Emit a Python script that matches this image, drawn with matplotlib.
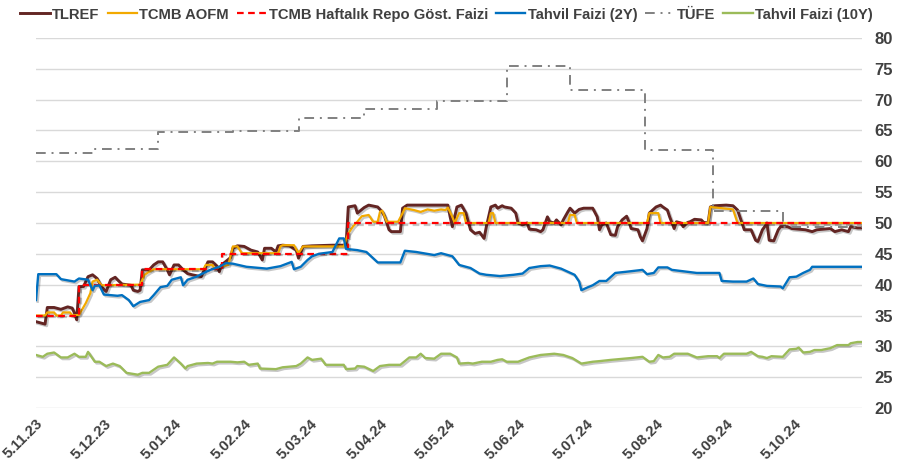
import numpy as np
import matplotlib
matplotlib.use("Agg")
import matplotlib.pyplot as plt
import matplotlib.patheffects as pe
from matplotlib.lines import Line2D

# ---------------- data (x = days since 5 Nov 2023) ----------------
base_date = np.datetime64('2023-11-05')

tlref_days = [0, 4, 5, 8, 11, 14, 16, 17, 18, 19, 21, 23, 25, 27, 29, 31, 33, 35, 36, 38, 42, 43, 45, 46,
              47, 50, 52, 54, 56, 58, 59, 61, 63, 65, 67, 69, 73, 76, 78, 80, 81, 82, 83, 86, 87, 89, 92,
              95, 98, 100, 101, 104, 106, 107, 109, 112, 115, 116, 118, 122, 131, 137, 138, 141, 142, 145,
              147, 151, 153, 154, 156, 157, 161, 162, 164, 182, 183, 184, 186, 188, 190, 192, 194, 196,
              198, 199, 201, 203, 204, 206, 207, 210, 212, 213, 215, 217, 218, 221, 223, 224, 226, 227,
              229, 230, 232, 233, 235, 236, 238, 240, 242, 246, 248, 249, 250, 252, 254, 256, 257, 259,
              261, 262, 263, 266, 267, 268, 270, 271, 274, 276, 277, 279, 280, 282, 283, 285, 286, 288,
              289, 291, 294, 295, 297, 298, 300, 305, 308, 310, 312, 313, 316, 318, 319, 321, 322, 323,
              324, 326, 328, 329, 332, 334, 337, 340, 343, 345, 348, 351, 353, 356, 359, 360, 363, 365]
tlref_vals = [34.0, 33.6, 36.3, 36.3, 36.0, 36.4, 36.2, 35.4, 34.3, 39.7, 39.7, 41.3, 41.6, 41.0, 39.6,
              38.9, 40.8, 41.2, 40.8, 40.1, 39.9, 39.1, 38.9, 39.1, 42.4, 42.4, 43.2, 43.7, 43.7, 42.4,
              41.6, 43.2, 43.2, 42.4, 41.8, 41.6, 41.3, 43.7, 43.7, 43.0, 42.1, 43.2, 43.5, 44.4, 45.9,
              46.3, 46.2, 45.6, 45.3, 44.0, 45.9, 45.9, 45.3, 46.3, 46.4, 46.3, 45.6, 44.3, 46.2, 46.3,
              46.4, 46.4, 52.6, 52.8, 51.6, 52.5, 52.9, 52.6, 51.8, 51.1, 48.9, 48.6, 48.6, 52.4, 52.9,
              52.9, 51.0, 49.4, 52.6, 52.9, 51.6, 48.9, 48.3, 48.5, 47.5, 49.4, 52.6, 52.9, 52.4, 52.8,
              52.6, 52.4, 51.6, 50.0, 49.7, 50.0, 49.0, 48.9, 48.6, 48.9, 51.0, 50.2, 50.0, 50.5, 49.7,
              50.5, 51.8, 52.4, 51.6, 52.2, 52.4, 52.4, 51.0, 48.9, 49.7, 50.0, 48.1, 48.0, 49.4, 50.5,
              51.1, 50.2, 49.1, 48.9, 47.8, 47.1, 49.1, 51.6, 52.6, 52.9, 52.6, 52.1, 51.0, 49.1, 50.2,
              50.0, 49.4, 50.1, 50.2, 50.6, 50.5, 50.1, 50.0, 52.6, 52.8, 52.9, 52.8, 52.1, 50.0, 48.9,
              48.9, 47.2, 47.0, 48.9, 49.4, 50.0, 47.2, 47.1, 48.9, 49.4, 49.4, 49.1, 49.0, 48.9, 48.6,
              48.9, 49.0, 49.1, 48.6, 48.9, 48.6, 49.4, 49.2, 49.2]

aofm_days = [0, 4, 5, 8, 9, 11, 12, 15, 16, 19, 22, 24, 25, 27, 29, 46, 48, 50, 52, 74, 75, 78, 79, 81,
             85, 87, 89, 91, 107, 108, 109, 114, 116, 118, 136, 138, 140, 142, 144, 147, 149, 151, 152,
             153, 155, 160, 162, 163, 167, 170, 173, 176, 179, 181, 182, 184, 185, 187, 189, 190, 200,
             201, 202, 203, 235, 236, 238, 239, 270, 271, 275, 276, 297, 298, 308, 310, 365]
aofm_vals = [35.0, 35.0, 35.5, 35.5, 35.0, 35.0, 35.5, 35.5, 35.0, 35.1, 37.0, 38.6, 40.5, 40.8, 39.9,
             40.0, 41.6, 42.1, 42.5, 42.5, 43.2, 43.2, 42.5, 42.9, 43.2, 46.2, 46.2, 45.1, 45.1, 46.2,
             46.4, 46.4, 45.1, 46.2, 46.2, 48.3, 49.4, 50.2, 51.1, 51.3, 50.2, 50.2, 51.8, 52.0, 50.2,
             50.2, 51.6, 52.4, 52.1, 51.8, 52.2, 52.0, 52.2, 52.1, 52.5, 51.0, 50.0, 51.6, 51.6, 50.0,
             50.0, 51.6, 51.6, 50.0, 50.0, 51.3, 51.3, 50.0, 50.0, 51.6, 51.6, 50.0, 50.0, 52.6, 52.2,
             50.0, 50.0]

repo_dates = ['2023-11-05', '2023-11-24', '2023-12-22', '2024-01-26', '2024-03-22', '2024-11-04']
repo_vals = [35.0, 40.0, 42.5, 45.0, 50.0, 50.0]

bond2y_days = [0, 1, 9, 11, 17, 19, 23, 25, 26, 28, 30, 36, 38, 41, 43, 46, 50, 52, 55, 58, 60, 64, 65,
               67, 71, 73, 77, 81, 84, 87, 93, 102, 108, 113, 114, 117, 120, 122, 125, 131, 134, 136,
               137, 142, 146, 151, 161, 163, 168, 176, 179, 184, 187, 192, 196, 199, 205, 211, 215, 218,
               223, 227, 232, 235, 238, 240, 241, 244, 246, 249, 252, 256, 261, 268, 270, 273, 275, 279,
               281, 292, 302, 303, 308, 314, 317, 319, 323, 329, 330, 333, 336, 339, 342, 343, 352, 365]
bond2y_vals = [37.5, 41.7, 41.7, 40.9, 40.5, 41.0, 40.8, 39.1, 39.8, 39.9, 38.4, 38.2, 38.3, 37.5, 36.5,
               37.2, 37.5, 38.3, 39.6, 39.8, 40.8, 41.2, 39.9, 40.8, 41.3, 41.7, 42.4, 42.9, 43.5, 43.4,
               42.9, 42.6, 43.0, 43.7, 42.5, 42.9, 44.0, 44.6, 45.0, 45.3, 47.5, 47.5, 45.8, 45.6, 45.3,
               43.6, 43.6, 45.5, 45.3, 44.8, 45.1, 44.6, 43.2, 42.7, 41.8, 41.6, 41.4, 41.6, 41.8, 42.7,
               43.0, 43.1, 42.6, 42.1, 41.6, 40.5, 39.1, 39.6, 39.9, 40.6, 40.6, 41.9, 42.1, 42.4, 41.7,
               41.9, 42.8, 42.8, 42.4, 41.9, 41.9, 40.6, 40.5, 40.5, 41.0, 40.1, 39.8, 39.7, 39.4, 41.2,
               41.3, 41.9, 42.4, 42.9, 42.9, 42.9]

cpi_dates = ['2023-11-05', '2023-11-30', '2023-12-29', '2024-01-31', '2024-02-29', '2024-03-29',
             '2024-04-30', '2024-05-31', '2024-06-28', '2024-07-31', '2024-08-30', '2024-09-30',
             '2024-11-04']
cpi_vals = [61.36, 61.98, 64.77, 64.86, 67.07, 68.50, 69.80, 75.45, 71.60, 61.78, 51.97, 49.38, 49.38]

bond10y_days = [0, 3, 5, 8, 11, 14, 17, 19, 22, 23, 26, 28, 31, 34, 37, 40, 45, 47, 50, 54, 58, 61, 64,
                66, 67, 71, 76, 78, 80, 86, 89, 92, 94, 98, 99, 106, 109, 115, 117, 120, 122, 126, 128,
                136, 137, 141, 142, 145, 149, 152, 156, 161, 165, 168, 170, 172, 176, 179, 183, 186, 187,
                191, 193, 197, 201, 204, 206, 208, 213, 218, 223, 229, 233, 237, 241, 246, 249, 254, 260,
                263, 268, 271, 273, 275, 277, 280, 282, 288, 292, 297, 301, 302, 304, 314, 316, 319, 321,
                323, 325, 330, 333, 336, 337, 339, 342, 344, 347, 351, 354, 359, 360, 363, 365]
bond10y_vals = [28.6, 28.3, 28.8, 29.0, 28.2, 28.2, 28.8, 28.3, 28.3, 29.1, 27.5, 27.5, 26.8, 27.2, 26.8,
                25.7, 25.4, 25.7, 25.7, 26.7, 27.0, 28.2, 27.2, 26.4, 26.8, 27.2, 27.3, 27.2, 27.5, 27.5,
                27.4, 27.5, 27.0, 27.2, 26.4, 26.3, 26.6, 26.8, 27.2, 28.2, 27.8, 28.0, 27.0, 27.0, 26.3,
                26.4, 26.8, 26.7, 26.0, 26.8, 27.0, 27.0, 28.2, 28.2, 28.8, 28.1, 28.0, 28.8, 28.8, 28.2,
                27.2, 27.3, 27.2, 27.5, 27.5, 27.8, 27.9, 27.5, 27.5, 28.2, 28.6, 28.8, 28.6, 28.1, 27.2,
                27.5, 27.6, 27.8, 28.0, 28.1, 28.3, 27.5, 27.6, 28.6, 28.2, 28.3, 28.8, 28.8, 28.2, 28.4,
                28.4, 28.1, 28.8, 28.8, 29.1, 28.4, 28.3, 28.1, 28.4, 28.3, 29.5, 29.6, 29.8, 29.0, 29.1,
                29.4, 29.4, 29.7, 30.2, 30.2, 30.5, 30.7, 30.7]

tick_dates = ['2023-11-05', '2023-12-05', '2024-01-05', '2024-02-05', '2024-03-05', '2024-04-05',
              '2024-05-05', '2024-06-05', '2024-07-05', '2024-08-05', '2024-09-05', '2024-10-05']
tick_labels = ['5.11.23', '5.12.23', '5.01.24', '5.02.24', '5.03.24', '5.04.24',
               '5.05.24', '5.06.24', '5.07.24', '5.08.24', '5.09.24', '5.10.24']
y_ticks = [20, 25, 30, 35, 40, 45, 50, 55, 60, 65, 70, 75, 80]

series_names = ['TLREF', 'TCMB AOFM', 'TCMB Haftalık Repo Göst. Faizi',
                'Tahvil Faizi (2Y)', 'TÜFE', 'Tahvil Faizi (10Y)']


def to_dates(days):
    return base_date + np.array(days).astype('timedelta64[D]')


# ---------------- figure ----------------
plt.rcParams['font.family'] = ['Liberation Sans', 'DejaVu Sans']
text_col = '#404040'

fig = plt.figure(figsize=(9.02, 4.69), dpi=100)
ax = fig.add_axes([36 / 902, 1 - 408 / 469, (862 - 36) / 902, (408 - 38) / 469])

shadow = [pe.SimpleLineShadow(offset=(1.2, -1.2), shadow_color='black', alpha=0.22), pe.Normal()]

c_tlref = '#632523'
c_aofm = '#F2A900'
c_repo = '#FF0000'
c_2y = '#0070C0'
c_cpi = '#808080'
c_10y = '#9BBB59'

ls_repo = (0, (3, 2))
ls_cpi = (0, (5, 3, 1, 3, 1, 3))

ax.plot(to_dates(tlref_days), tlref_vals, color=c_tlref, lw=2.1, zorder=3, path_effects=shadow,
        solid_joinstyle='round')
ax.plot(to_dates(aofm_days), aofm_vals, color=c_aofm, lw=1.6, zorder=4, path_effects=shadow,
        solid_joinstyle='round')
ax.plot(np.array(repo_dates, dtype='datetime64[D]'), repo_vals, color=c_repo, lw=1.6,
        drawstyle='steps-post', linestyle=ls_repo, zorder=5, path_effects=shadow)
ax.plot(to_dates(bond2y_days), bond2y_vals, color=c_2y, lw=1.7, zorder=6, path_effects=shadow,
        solid_joinstyle='round')
ax.plot(np.array(cpi_dates, dtype='datetime64[D]'), cpi_vals, color=c_cpi, lw=1.4,
        drawstyle='steps-post', linestyle=(0, (5, 3, 1, 3)), zorder=7)
ax.plot(to_dates(bond10y_days), bond10y_vals, color=c_10y, lw=1.7, zorder=8, path_effects=shadow,
        solid_joinstyle='round')

ax.set_xlim(base_date, base_date + np.timedelta64(365, 'D'))
ax.set_ylim(20, 80)
ax.set_yticks(y_ticks)
ax.yaxis.tick_right()
ax.tick_params(axis='y', length=0, pad=9, labelsize=12, labelcolor=text_col)
for lab in ax.get_yticklabels():
    lab.set_fontweight('bold')

ax.set_xticks(np.array(tick_dates, dtype='datetime64[D]'))
ax.set_xticklabels(tick_labels, rotation=45, ha='right', va='top', rotation_mode='anchor',
                   fontsize=10.8, fontweight='bold', color=text_col)
ax.tick_params(axis='x', length=0, pad=6)

ax.grid(axis='y', color='#D9D9D9', lw=1.0)
ax.set_axisbelow(True)
for s in ax.spines.values():
    s.set_visible(False)

handles = [
    Line2D([], [], color=c_tlref, lw=2.1),
    Line2D([], [], color=c_aofm, lw=1.6),
    Line2D([], [], color=c_repo, lw=1.6, linestyle=ls_repo),
    Line2D([], [], color=c_2y, lw=1.7),
    Line2D([], [], color=c_cpi, lw=1.4, linestyle=ls_cpi),
    Line2D([], [], color=c_10y, lw=1.7),
]
leg = fig.legend(handles, series_names, loc='upper left', bbox_to_anchor=(0.008, 1.012), ncol=6,
                 frameon=False, handlelength=2.0, handletextpad=0.15, columnspacing=0.55,
                 prop={'weight': 'bold', 'size': 10.6})
for t in leg.get_texts():
    t.set_color(text_col)

fig.savefig('out.png', dpi=100)
